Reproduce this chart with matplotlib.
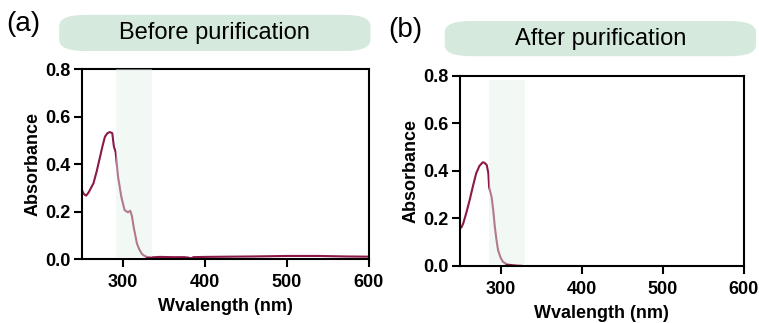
import matplotlib
matplotlib.use("Agg")
import matplotlib.pyplot as plt
from matplotlib.patches import FancyBboxPatch

plt.rcParams['font.family'] = ['Liberation Sans', 'DejaVu Sans']

# spectrum before purification (nm, absorbance)
wl_before = [250, 252, 255, 258, 264, 268, 272, 275, 278, 281, 284, 287, 288, 289, 291,
             294, 298, 302, 306, 309, 311, 313, 317, 320, 323, 326, 329, 335, 345, 360,
             375, 380, 383, 386, 400, 430, 460, 500, 540, 570, 600]
abs_before = [0.290, 0.275, 0.267, 0.280, 0.319, 0.370, 0.430, 0.475, 0.515, 0.530, 0.535, 0.530, 0.500, 0.473, 0.452,
              0.347, 0.262, 0.206, 0.197, 0.203, 0.180, 0.136, 0.066, 0.040, 0.022, 0.014, 0.009, 0.007, 0.009, 0.008,
              0.008, 0.006, 0.003, 0.008, 0.009, 0.010, 0.011, 0.013, 0.013, 0.011, 0.010]

# spectrum after purification
wl_after = [250, 252, 254, 258, 262, 266, 270, 274, 278, 280, 283, 285, 286, 289, 291, 293,
            295, 297, 300, 303, 307, 310, 314, 320, 326]
abs_after = [0.157, 0.163, 0.178, 0.225, 0.277, 0.335, 0.389, 0.420, 0.435, 0.434, 0.424, 0.390, 0.330, 0.290, 0.235, 0.164,
             0.110, 0.066, 0.035, 0.017, 0.008, 0.005, 0.003, 0.001, 0.000]

band_a = (292, 335)
band_b = (286, 330)
titles = ["Before purification", "After purification"]
letters = ["(a)", "(b)"]

line_color = "#8c1848"
band_color = "#e3f1e8"
box_color = "#d5e9dc"

fig = plt.figure(figsize=(7.59, 3.23), dpi=100)
ax1 = fig.add_axes([0.108, 0.198, 0.378, 0.588])
ax2 = fig.add_axes([0.606, 0.177, 0.374, 0.589])

panels = [(ax1, wl_before, abs_before, band_a, 0.8),
          (ax2, wl_after, abs_after, band_b, 0.782)]
for ax, x, y, band, top in panels:
    ax.plot(x, y, color=line_color, lw=1.5, zorder=2)
    ax.fill_between(band, 0.008, top, color=band_color, alpha=0.45, lw=0, zorder=3)
    ax.set_xlim(250, 600)
    ax.set_ylim(0, 0.8)
    ax.set_xticks([300, 400, 500, 600])
    ax.set_yticks([0.0, 0.2, 0.4, 0.6, 0.8])
    ax.set_yticklabels(["0.0", "0.2", "0.4", "0.6", "0.8"])
    for s in ax.spines.values():
        s.set_linewidth(1.5)
    ax.tick_params(width=1.5, length=6, labelsize=13, pad=2)
    ax.tick_params(axis="x", pad=5)
    for lab in ax.get_xticklabels() + ax.get_yticklabels():
        lab.set_fontweight("bold")
    ax.set_xlabel("Wvalength (nm)", fontsize=13, fontweight="bold", labelpad=5)
    ax.set_ylabel("Absorbance", fontsize=13, fontweight="bold", labelpad=3)

# rounded title boxes above each panel
boxes = [(0.078, 0.842, 0.410, 0.112), (0.586, 0.826, 0.410, 0.109)]
letter_pos = [(0.008, 0.925), (0.512, 0.906)]
for (bx, by, bw, bh), title, letter, (lx, ly) in zip(boxes, titles, letters, letter_pos):
    fig.patches.append(FancyBboxPatch((bx, by), bw, bh, boxstyle="round,pad=0,rounding_size=0.035",
                                      mutation_aspect=323 / 759 * 2.3,
                                      transform=fig.transFigure, facecolor=box_color,
                                      edgecolor="none"))
    fig.text(bx + bw / 2, by + bh / 2, title, ha="center", va="center", fontsize=17)
    fig.text(lx, ly, letter, ha="left", va="center", fontsize=20)

fig.savefig("out.png", dpi=100)
